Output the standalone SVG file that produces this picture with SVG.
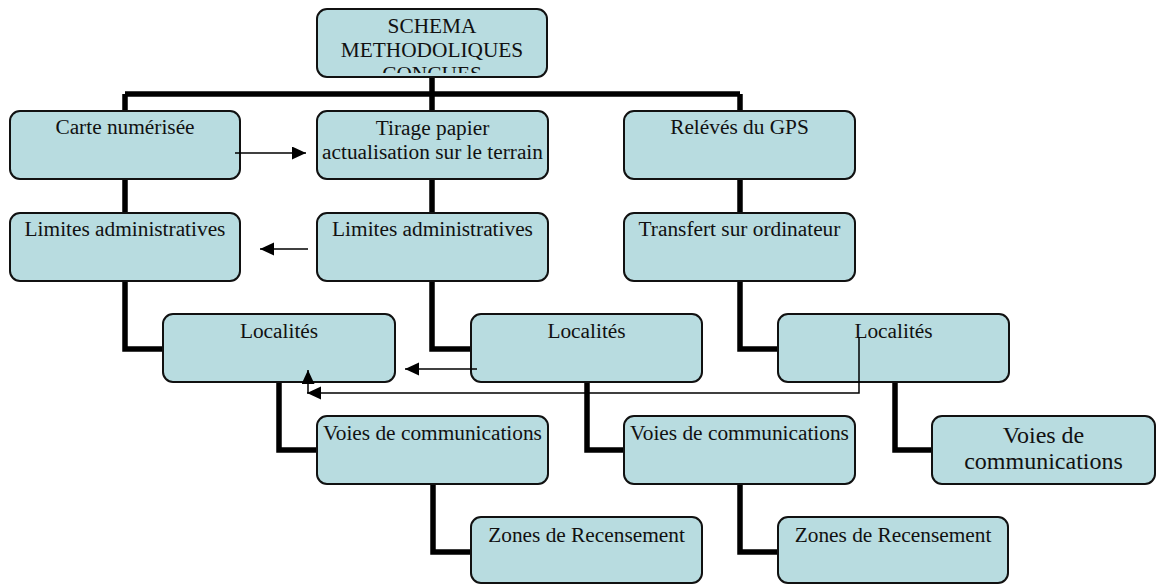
<svg xmlns="http://www.w3.org/2000/svg" width="1157" height="585" viewBox="0 0 1157 585">
<style>
.box{fill:#b8dce0;stroke:#111;stroke-width:2}
.t{font-family:"Liberation Serif","Times New Roman",serif;font-size:21.33px;fill:#111;text-anchor:middle}
.big{font-size:24px}
.thick{fill:none;stroke:#000;stroke-width:5.5;stroke-linejoin:miter}
.thin{fill:none;stroke:#000;stroke-width:1.5}
</style>
<defs>
<marker id="ah" markerUnits="userSpaceOnUse" markerWidth="15" markerHeight="14" refX="14" refY="6.5" orient="auto">
<path d="M0,0 L14,6.5 L0,13 z" fill="#000"/>
</marker>
<clipPath id="clipTop"><rect x="318" y="10" width="228" height="63"/></clipPath>
</defs>
<rect width="1157" height="585" fill="#fff"/>
<g id="connectors">
<path class="thick" d="M125,94 H740"/>
<path class="thick" d="M125,94 V349 H163"/>
<path class="thick" d="M432,77 V349 H471"/>
<path class="thick" d="M740,94 V349 H778"/>
<path class="thick" d="M279,382 V450 H317"/>
<path class="thick" d="M587,382 V450 H624"/>
<path class="thick" d="M895,382 V450 H932"/>
<path class="thick" d="M433,484 V552 H471"/>
<path class="thick" d="M740,484 V552 H778"/>
</g>
<g id="n-top">
<rect class="box" x="317" y="9" width="230" height="68" rx="10"/>
<g clip-path="url(#clipTop)">
<text class="t" x="432" y="33">SCHEMA</text>
<text class="t" x="432" y="57">METHODOLIQUES</text>
<text class="t" x="432" y="81">CONCUES</text>
</g>
</g>
<g id="n-carte">
<rect class="box" x="10" y="111" width="230" height="68" rx="10"/>
<text class="t" x="125" y="134">Carte numérisée</text>
</g>
<g id="n-tirage">
<rect class="box" x="317" y="111" width="231" height="68" rx="10"/>
<text class="t" x="432.5" y="135">Tirage papier</text>
<text class="t" x="432.5" y="159">actualisation sur le terrain</text>
</g>
<g id="n-gps">
<rect class="box" x="624" y="111" width="231" height="68" rx="10"/>
<text class="t" x="739.5" y="134">Relévés du GPS</text>
</g>
<g id="n-limites1">
<rect class="box" x="10" y="213" width="230" height="68" rx="10"/>
<text class="t" x="125" y="236">Limites administratives</text>
</g>
<g id="n-limites2">
<rect class="box" x="317" y="213" width="231" height="68" rx="10"/>
<text class="t" x="432.5" y="236">Limites administratives</text>
</g>
<g id="n-transfert">
<rect class="box" x="624" y="213" width="231" height="68" rx="10"/>
<text class="t" x="739.5" y="236">Transfert sur ordinateur</text>
</g>
<g id="n-loc1">
<rect class="box" x="163" y="314" width="232" height="68" rx="10"/>
<text class="t" x="279" y="338">Localités</text>
</g>
<g id="n-loc2">
<rect class="box" x="471" y="314" width="231" height="68" rx="10"/>
<text class="t" x="586.5" y="338">Localités</text>
</g>
<g id="n-loc3">
<rect class="box" x="778" y="314" width="231" height="68" rx="10"/>
<text class="t" x="893.5" y="338">Localités</text>
</g>
<g id="n-voies1">
<rect class="box" x="317" y="416" width="231" height="68" rx="10"/>
<text class="t" x="432.5" y="440">Voies de communications</text>
</g>
<g id="n-voies2">
<rect class="box" x="624" y="416" width="231" height="68" rx="10"/>
<text class="t" x="739.5" y="440">Voies de communications</text>
</g>
<g id="n-voies3">
<rect class="box" x="932" y="416" width="223" height="68" rx="10"/>
<text class="t big" x="1043.5" y="443">Voies de</text>
<text class="t big" x="1043.5" y="469">communications</text>
</g>
<g id="n-zones1">
<rect class="box" x="471" y="517" width="231" height="66" rx="10"/>
<text class="t" x="586.5" y="542">Zones de Recensement</text>
</g>
<g id="n-zones2">
<rect class="box" x="778" y="517" width="230" height="66" rx="10"/>
<text class="t" x="893" y="542">Zones de Recensement</text>
</g>
<g id="arrows">
<path class="thin" d="M235,153 H306" marker-end="url(#ah)"/>
<path class="thin" d="M308,249 H260" marker-end="url(#ah)"/>
<path class="thin" d="M477,369 H405" marker-end="url(#ah)"/>
<path class="thin" d="M859,337 V393 H307" marker-end="url(#ah)"/>
<path class="thin" d="M308,393 V370" marker-end="url(#ah)"/>
</g>
</svg>
